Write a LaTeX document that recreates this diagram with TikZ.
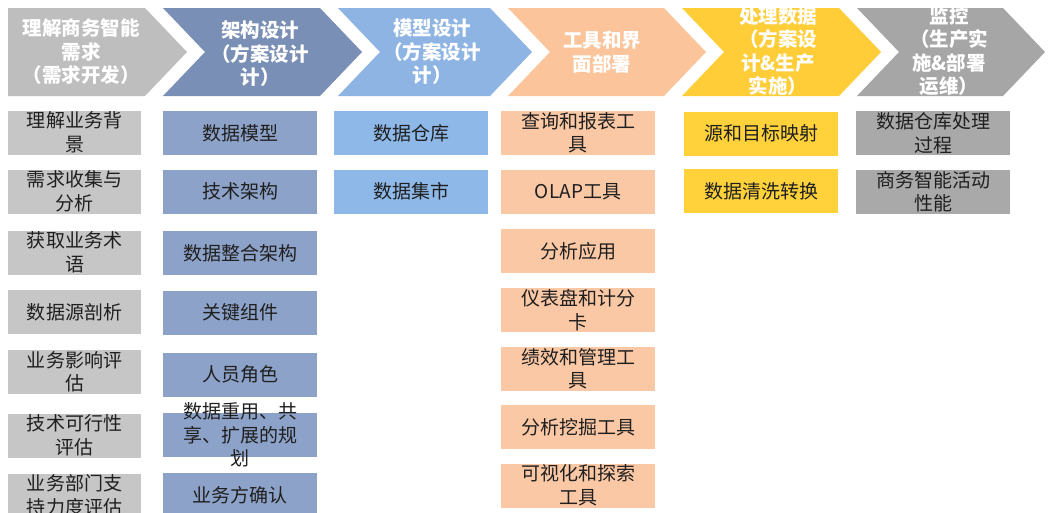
\documentclass[tikz,border=0pt]{standalone}
\usepackage{fontspec}
\setmainfont{Noto Sans CJK SC}
\definecolor{ch1}{HTML}{BEBEBE}
\definecolor{ch2}{HTML}{7A8FB5}
\definecolor{ch3}{HTML}{8EB4E3}
\definecolor{ch4}{HTML}{FCC49A}
\definecolor{ch5}{HTML}{FFCD37}
\definecolor{ch6}{HTML}{A6A6A6}
\definecolor{bx1}{HTML}{C6C6C6}
\definecolor{bx2}{HTML}{8DA2C8}
\definecolor{bx3}{HTML}{8EB8E8}
\definecolor{bx4}{HTML}{FBC8A5}
\definecolor{bx5}{HTML}{FFD23C}
\definecolor{bx6}{HTML}{A9A9A9}
\definecolor{txtc}{HTML}{1F1F1F}
\newcommand\mybox[6]{%
  \node[bxst,fill=#2,minimum width=#5] (#1) at (#3,#4) {};
  \node[btst] (#1t) at (#1.center) {#6};}
\begin{document}
\begin{tikzpicture}[x=1pt,y=-1pt,
  hdst/.style={text=white,font=\fontsize{19.5}{23.5}\selectfont\bfseries,align=center,inner sep=0},
  bxst/.style={draw=none,inner sep=0,minimum height=44},
  btst/.style={text=txtc,font=\fontsize{19}{23.5}\selectfont,align=center,inner sep=0}]
\useasboundingbox (0,0) rectangle (1048,512);
\clip (0,0) rectangle (1048,512);
\fill[white] (0,0) rectangle (1048,512);
% chevrons
\fill[ch1] (8,8) -- (145,8) -- (187,52) -- (145,96) -- (8,96) -- cycle;
\fill[ch2] (163,8) -- (320,8) -- (362,52) -- (320,96) -- (163,96) -- (205,52) -- cycle;
\fill[ch3] (338,8) -- (490,8) -- (532,52) -- (490,96) -- (338,96) -- (380,52) -- cycle;
\fill[ch4] (508,8) -- (664,8) -- (706,52) -- (664,96) -- (508,96) -- (550,52) -- cycle;
\fill[ch5] (682,8) -- (839,8) -- (881,52) -- (839,96) -- (682,96) -- (724,52) -- cycle;
\fill[ch6] (857,8) -- (1003,8) -- (1045,52) -- (1003,96) -- (857,96) -- (899,52) -- cycle;
\node[hdst] (h1) at (81,52) {理解商务智能\\需求\\（需求开发）};
\node[hdst] (h2) at (260,54) {架构设计\\（方案设计\\计）};
\node[hdst] (h3) at (432,52) {模型设计\\（方案设计\\计）};
\node[hdst] (h4) at (602,52) {工具和界\\面部署};
\node[hdst] (h5) at (778,51) {处理数据\\（方案设\\计\&生产\\实施）};
\node[hdst] (h6) at (949,51) {监控\\（生产实\\施\&部署\\运维）};
% column 1
\mybox{a1}{bx1}{74.5}{132.5}{133}{理解业务背\\景}
\mybox{a2}{bx1}{74.5}{191.5}{133}{需求收集与\\分析}
\mybox{a3}{bx1}{74.5}{252.5}{133}{获取业务术\\语}
\mybox{a4}{bx1}{74.5}{312}{133}{数据源剖析}
\mybox{a5}{bx1}{74.5}{372}{133}{业务影响评\\估}
\mybox{a6}{bx1}{74.5}{435.5}{133}{技术可行性\\评估}
\mybox{a7}{bx1}{74.5}{495.5}{133}{业务部门支\\持力度评估}
% column 2
\mybox{b1}{bx2}{240}{133}{154}{数据模型}
\mybox{b2}{bx2}{240}{191.5}{154}{技术架构}
\mybox{b3}{bx2}{240}{253}{154}{数据整合架构}
\mybox{b4}{bx2}{240}{312.5}{154}{关键组件}
\mybox{b5}{bx2}{240}{374.5}{154}{人员角色}
\mybox{b6}{bx2}{240}{435}{154}{数据重用、共\\享、扩展的规\\划}
\mybox{b7}{bx2}{240}{495}{154}{业务方确认}
% column 3
\mybox{c1}{bx3}{411}{133}{154}{数据仓库}
\mybox{c2}{bx3}{411}{191.5}{154}{数据集市}
% column 4
\mybox{d1}{bx4}{578}{133}{154}{查询和报表工\\具}
\mybox{d2}{bx4}{578}{191.5}{154}{OLAP工具}
\mybox{d3}{bx4}{578}{251}{154}{分析应用}
\mybox{d4}{bx4}{578}{310}{154}{仪表盘和计分\\卡}
\mybox{d5}{bx4}{578}{368.5}{154}{绩效和管理工\\具}
\mybox{d6}{bx4}{578}{427}{154}{分析挖掘工具}
\mybox{d7}{bx4}{578}{485.5}{154}{可视化和探索\\工具}
% column 5
\mybox{e1}{bx5}{761}{133.5}{154}{源和目标映射}
\mybox{e2}{bx5}{761}{191}{154}{数据清洗转换}
% column 6
\mybox{f1}{bx6}{933}{133}{154}{数据仓库处理\\过程}
\mybox{f2}{bx6}{933}{191.5}{154}{商务智能活动\\性能}
\end{tikzpicture}
\end{document}
